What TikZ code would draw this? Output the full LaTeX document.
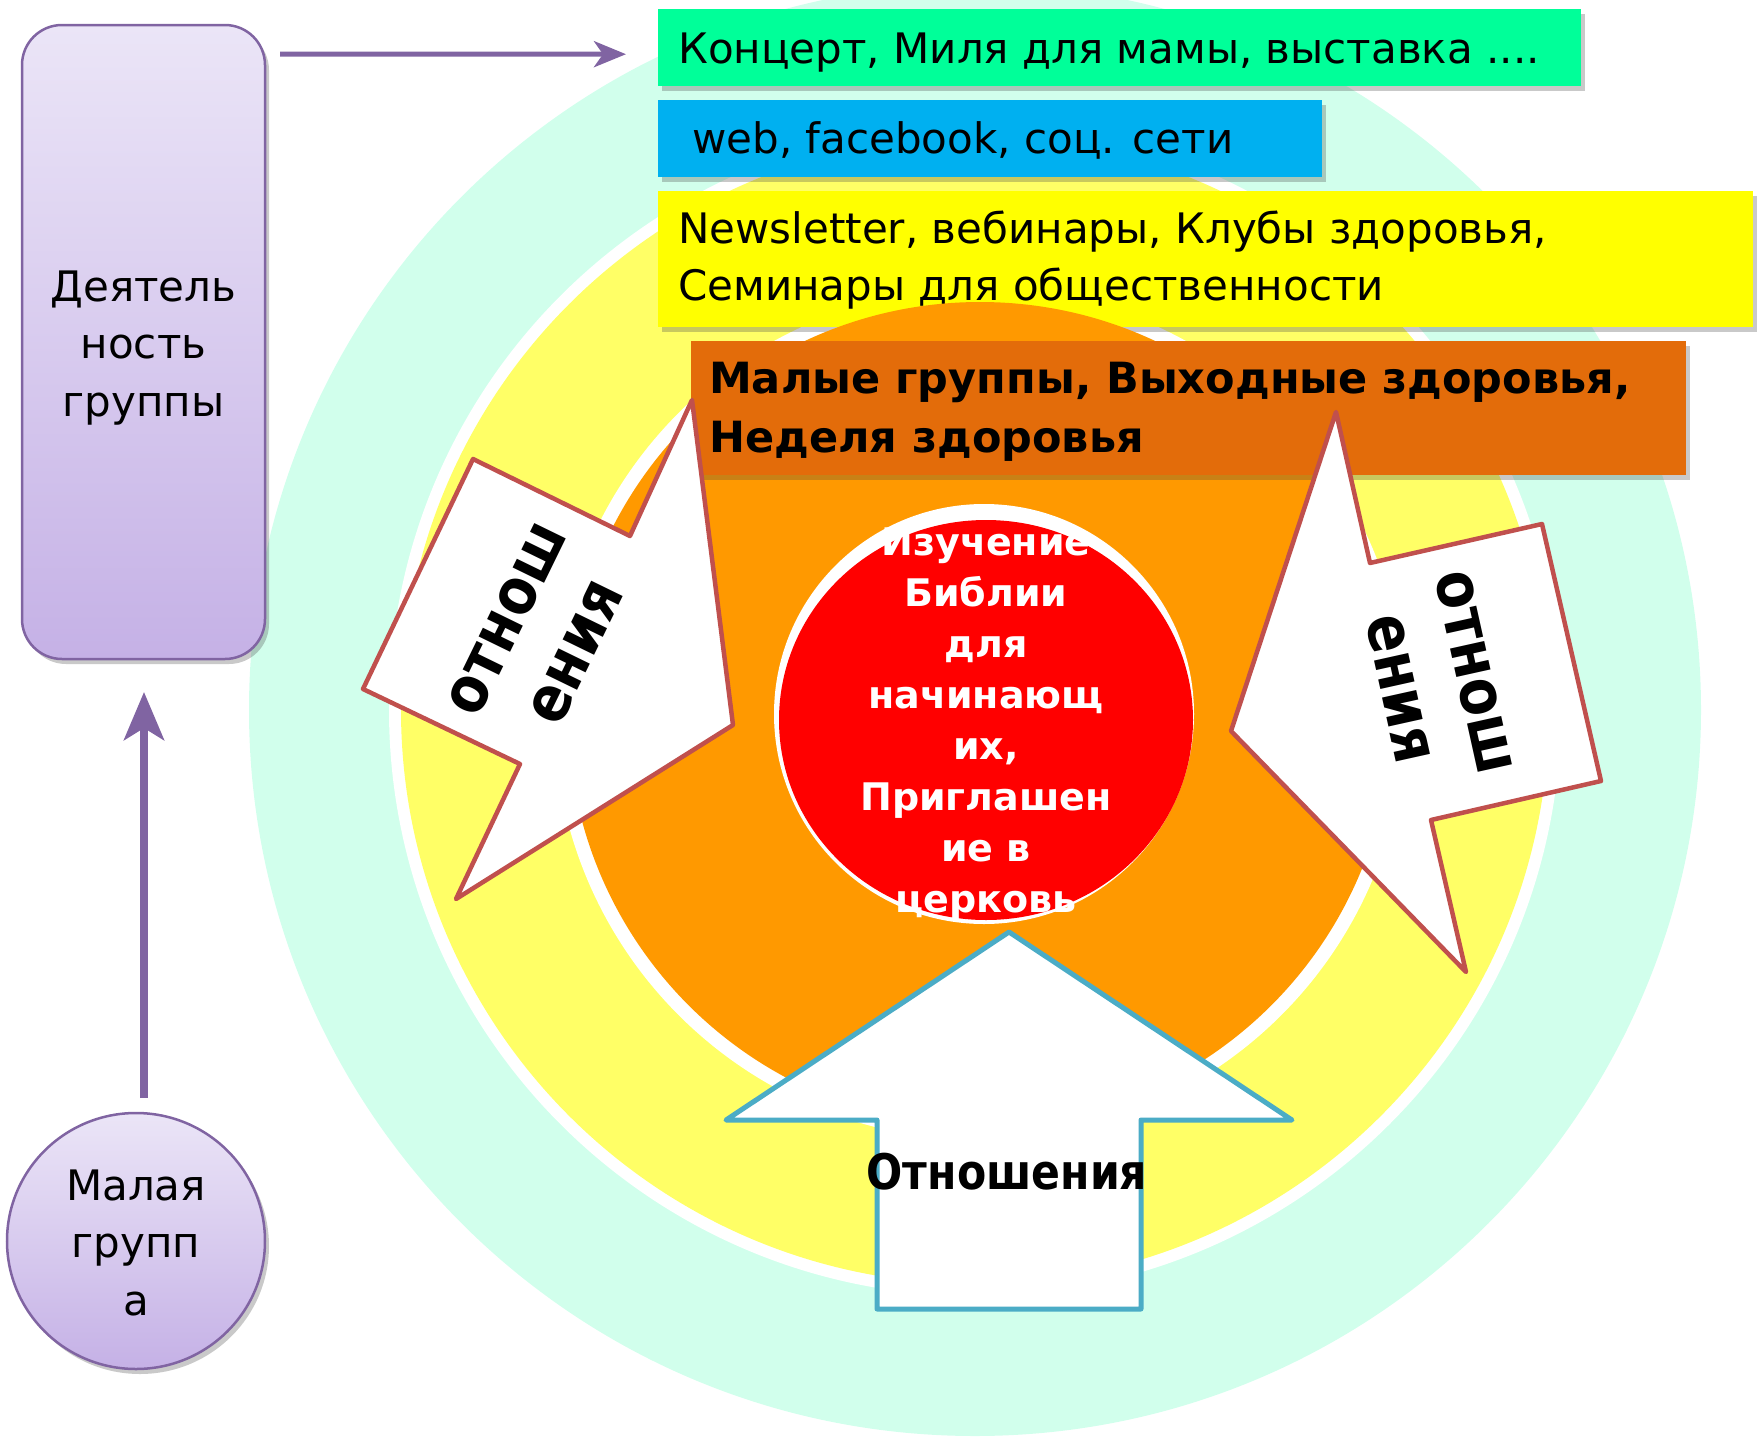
\documentclass[tikz,border=0pt]{standalone}
\usepackage{fontspec}
\setmainfont{DejaVu Sans}
\newfontface\tbf[FakeStretch=0.87]{DejaVu Sans Bold}
\newfontface\vbf{DejaVu Sans Bold}
\usetikzlibrary{arrows.meta,shadows,calc,shapes.geometric}
\definecolor{mint}{HTML}{D1FFEC}
\definecolor{ylc}{HTML}{FFFF66}
\definecolor{orc}{HTML}{FF9900}
\definecolor{orbox}{HTML}{E36C0A}
\definecolor{grbox}{HTML}{00FF99}
\definecolor{blbox}{HTML}{00B0F0}
\definecolor{ylbox}{HTML}{FFFF00}
\definecolor{redc}{HTML}{FF0000}
\definecolor{arrred}{HTML}{C0504D}
\definecolor{arrblue}{HTML}{4BACC6}
\definecolor{purpline}{HTML}{8064A2}
\definecolor{purptop}{HTML}{EBE5F7}
\definecolor{purpbot}{HTML}{C5B1E6}
\newcommand\mlines[2]{\begin{tabular}[t]{@{}#1@{}}#2\end{tabular}}
\begin{document}
\begin{tikzpicture}[x=1pt,y=-1pt,
  shd/.style={drop shadow={shadow xshift=4pt,shadow yshift=-5pt,opacity=0.3,fill=black!70}},
  colbox/.style={rectangle,inner sep=0pt,anchor=north west,shd},
  boxtxt/.style={inner sep=0pt,anchor=base west,font=\fontsize{42}{57}\selectfont},
  purp/.style={draw=purpline,line width=2.5pt,top color=purptop,bottom color=purpbot,shd},
  purptxt/.style={inner sep=0pt,anchor=base,font=\fontsize{42}{57.5}\selectfont},
  sidearrow/.style={draw=arrred,fill=white,line width=4.5pt,line join=round},
  botarrow/.style={draw=arrblue,fill=white,line width=5pt,line join=round},
  arrtxt/.style={inner sep=0pt,align=center,font=\tbf\fontsize{64}{77}\selectfont},
  parrow/.style={draw=purpline}
]
\useasboundingbox (0,0) rectangle (1757,1440);

% concentric rings
\fill[mint] (975,710) circle [radius=726];
\fill[white] (975,710) circle [radius=586];
\fill[ylc] (975,710) circle [radius=574];
\fill[white] (980,714) circle [radius=426];

% top boxes
\node[colbox,fill=grbox,minimum width=923,minimum height=77] (b1) at (658,9) {};
\node[boxtxt] (t1) at (678,63) {Концерт, Миля для мамы, выставка ....};
\node[colbox,fill=blbox,minimum width=664,minimum height=77] (b2) at (658,100) {};
\node[boxtxt] (t2) at (692,153) {web, facebook, соц. сети};
\node[colbox,fill=ylbox,minimum width=1095,minimum height=136] (b3) at (658,191) {};
\node[boxtxt] (t3) at (678,243) {\mlines{l}{Newsletter, вебинары, Клубы здоровья,\\Семинары для общественности}};

% orange circle
\fill[orc] (980,714) circle [radius=412];

% orange box
\node[colbox,fill=orbox,minimum width=995,minimum height=134] (b4) at (691,341) {};
\node[boxtxt,font=\vbf\fontsize{43}{59}\selectfont] (t4) at (709,393) {\mlines{l}{Малые группы, Выходные здоровья,\\Неделя здоровья}};

% red centre
\fill[white] (984,714) circle [radius=210];
\node[ellipse,fill=redc,minimum width=414,minimum height=400,inner sep=0pt] (core) at (986,720) {};
\node[inner sep=0pt,anchor=base,text=white,font=\vbf\fontsize{38}{51}\selectfont] (coretxt) at (986,555)
  {\mlines{c}{Изучение\\Библии\\для\\начинающ\\их,\\Приглашен\\ие в\\церковь}};

% relation arrows
\draw[sidearrow] (363,689) -- (473,459) -- (630,536) -- (692,400) -- (733,725) -- (456,899) -- (520,764) -- cycle;
\node[arrtxt,rotate=64] (lt) at (542,636) {отнош\\ения};
\draw[sidearrow] (1336,412) -- (1370,563) -- (1542,524) -- (1601,781) -- (1431,820) -- (1466,972) -- (1231,731) -- cycle;
\node[arrtxt,rotate=-77.5] (rt) at (1436,681) {отнош\\ения};
\draw[botarrow] (1009,932) -- (1292,1120) -- (1141,1120) -- (1141,1309) -- (877,1309) -- (877,1120) -- (726,1120) -- cycle;
\node[inner sep=0pt,anchor=base,font=\tbf\fontsize{49}{60}\selectfont] (bt) at (1007,1189) {Отношения};

% left side
\node[purp,rectangle,rounded corners=40pt,minimum width=243,minimum height=634,inner sep=0pt,outer sep=0pt] (act) at (143.5,342) {};
\node[purptxt] (acttxt) at (143.5,301) {\mlines{c}{Деятель\\ность\\группы}};
\node[purp,ellipse,minimum width=258,minimum height=256,inner sep=0pt,outer sep=0pt] (mg) at (136,1241) {};
\node[purptxt] (mgtxt) at (136,1200) {\mlines{c}{Малая\\групп\\а}};

\draw[parrow,line width=5pt,-{Stealth[length=32pt,width=26pt,inset=9pt]}] ($(act.north east)+(15,29)$) -- ($(b1.west)+(-32,6.5)$);
\draw[parrow,line width=8pt,-{Stealth[length=48pt,width=40pt,inset=12pt]}] ($(mg.north)+(8,-15)$) -- ($(act.south)+(0.5,33)$);
\end{tikzpicture}
\end{document}
